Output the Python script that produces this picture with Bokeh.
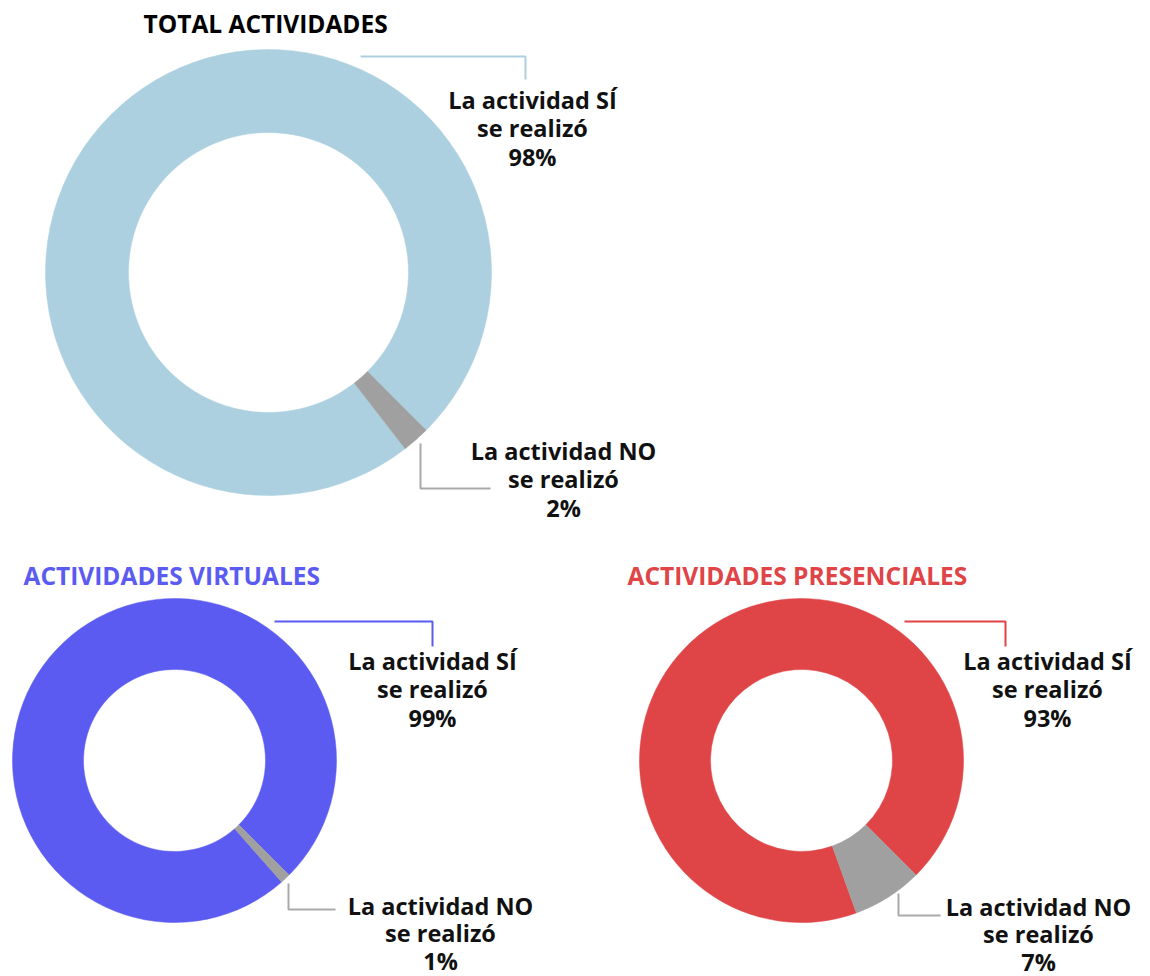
import math
from bokeh.plotting import figure
from bokeh.models import Range1d, ColumnDataSource
from bokeh.core.properties import value
from bokeh.embed import file_html
from bokeh.resources import INLINE

# ---------------- data ----------------
categories = ["SÍ", "NO"]
total_values = [98, 2]
virtual_values = [99, 1]
presencial_values = [93, 7]
titles = ["TOTAL ACTIVIDADES", "ACTIVIDADES VIRTUALES", "ACTIVIDADES PRESENCIALES"]

# ---------------- style / layout ----------------
FONT = "Open Sans"
GRAY = "#a0a0a0"
LEADER_GRAY = "#a9a9a9"
W, H = 1150, 976


def Y(y):
    return H - y


charts = [
    dict(values=total_values, title=titles[0], title_color="#000000", title_pos=(143, 23),
         center=(268, 272), R=223, r=140, color="#acd0df",
         si_leader=([360, 525, 525], [56, 56, 79]), si_label=(532, 99),
         no_leader=([420, 420, 490], [443, 488, 488]), no_label=(563, 450), step=28.5),
    dict(values=virtual_values, title=titles[1], title_color="#5b5bf1", title_pos=(23, 575),
         center=(174, 760), R=162, r=91, color="#5b5bf1",
         si_leader=([274, 432, 432], [621, 621, 646]), si_label=(432, 660),
         no_leader=([288, 288, 335], [883, 909, 909]), no_label=(440, 905), step=27.5),
    dict(values=presencial_values, title=titles[2], title_color="#df4446", title_pos=(627, 575),
         center=(801, 760), R=162, r=91, color="#df4446",
         si_leader=([904, 1005, 1005], [621, 621, 646]), si_label=(1047, 660),
         no_leader=([898, 898, 940], [893, 915, 915]), no_label=(1038, 906), step=27.5),
]

p = figure(width=W, height=H, x_range=Range1d(0, W), y_range=Range1d(0, H),
           output_backend="svg", toolbar_location=None, min_border=0,
           x_axis_location=None, y_axis_location=None)
p.grid.visible = False
p.outline_line_color = None
p.background_fill_color = "white"
p.border_fill_color = "white"

START = -math.pi / 4  # gap between NO and SÍ sits at the lower-right diagonal

for ch in charts:
    vals = ch["values"]
    tot = sum(vals)
    starts, ends = [], []
    a = START
    for v in vals:
        starts.append(a)
        a = a + 2 * math.pi * v / tot
        ends.append(a)
    cx, cy = ch["center"]
    src = ColumnDataSource(dict(
        x=[cx] * len(vals), y=[Y(cy)] * len(vals),
        start=starts, end=ends, color=[ch["color"], GRAY]))
    p.annular_wedge(x="x", y="y", inner_radius=ch["r"], outer_radius=ch["R"],
                    start_angle="start", end_angle="end", fill_color="color",
                    line_color="color", line_width=0.5, source=src)

    # title
    tx, ty = ch["title_pos"]
    p.text(x=[tx], y=[Y(ty)], text=[ch["title"]], text_font=value(FONT),
           text_font_style="bold", text_font_size="24.5px", text_color=ch["title_color"],
           text_align="left", text_baseline="middle")

    # leaders
    xs, ys = ch["si_leader"]
    p.line(xs, [Y(v) for v in ys], line_color=ch["color"], line_width=2)
    xs, ys = ch["no_leader"]
    p.line(xs, [Y(v) for v in ys], line_color=LEADER_GRAY, line_width=2)

    # labels
    for cat, v, key in zip(categories, vals, ["si_label", "no_label"]):
        lx, ly = ch[key]
        step = 28.5 if key == "si_label" else ch["step"]
        lines = [f"La actividad {cat}", "se realizó", f"{v}%"]
        p.text(x=[lx] * 3, y=[Y(ly + i * step) for i in range(3)], text=lines,
               text_font=value(FONT), text_font_style="bold", text_font_size="23.5px",
               text_color="#111111", text_align="center", text_baseline="middle")

open("out.html", "w").write(file_html(p, INLINE))
